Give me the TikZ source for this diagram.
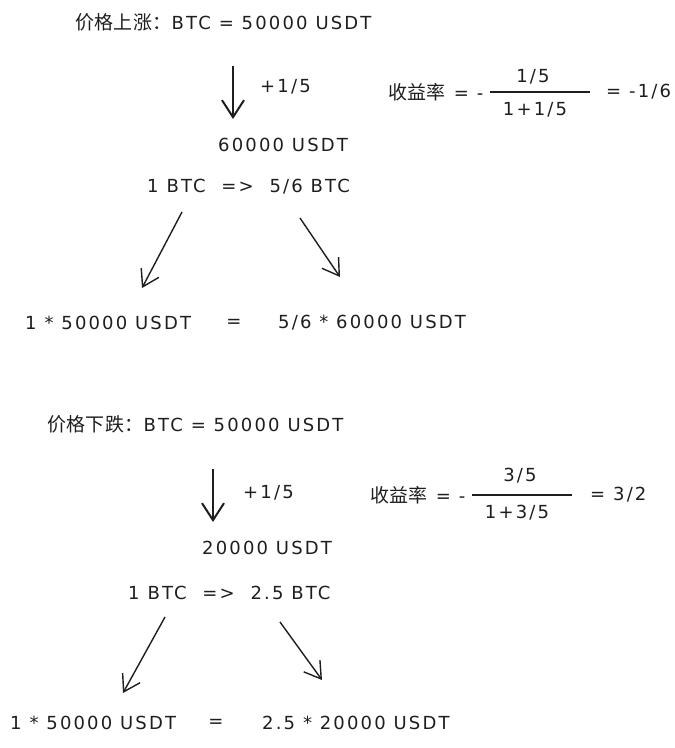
\documentclass[tikz,border=0pt]{standalone}
\usepackage{fontspec}
\setmainfont{DejaVu Sans}[LetterSpace=12]
\newfontfamily\cjk{Noto Sans CJK SC}[LetterSpace=2]
\usetikzlibrary{arrows.meta}
\definecolor{inkDark}{HTML}{1E1E1E}

\begin{document}
\begin{tikzpicture}[x=1pt, y=-1pt,
    txt/.style={anchor=west, inner sep=0pt, text=inkDark,
                font=\fontsize{18}{22}\selectfont},
    txtc/.style={txt, anchor=center},
    drop/.style={draw=inkDark, line width=2pt,
                 -{Straight Barb[length=17pt, width=22pt, line width=2pt]}},
    split/.style={draw=inkDark, line width=1.4pt,
                  -{Straight Barb[length=16pt, width=20pt, line width=1.4pt]}},
    fracbar/.style={draw=inkDark, line width=1.2pt},
  ]
    \useasboundingbox[fill=white] (0,0) rectangle (675,748);

    % ---- price up ----
    \node[txt] (title1) at (75,22) {{\cjk\fontsize{19}{22}\selectfont 价格上涨：}BTC = 50000 USDT};
    \coordinate (dn1a) at (233,66);
    \coordinate (dn1b) at (233,119);
    \draw[drop] (dn1a) -- (dn1b);
    \node[txt] (gain1) at (260,87) {+1/5};
    \node[txt] (price1) at (218,145) {60000 USDT};

    % yield
    \node[txt] (rate1) at (388,92) {{\cjk\fontsize{19}{22}\selectfont 收益率} = -};
    \coordinate (bar1a) at (490,92);
    \coordinate (bar1b) at (590,92);
    \draw[fracbar] (bar1a) -- (bar1b);
    \node[txtc] (num1) at (533,77) {1/5};
    \node[txtc] (den1) at (535,110) {1+1/5};
    \node[txt] (res1) at (606,92) {= -1/6};

    % swap and value
    \node[txt] (swap1) at (147,187) {1 BTC \ => \ 5/6 BTC};
    \coordinate (lt1a) at (182,212);
    \coordinate (lt1b) at (142,288);
    \coordinate (rt1a) at (300,218);
    \coordinate (rt1b) at (340,277);
    \draw[split] (lt1a) -- (lt1b);
    \draw[split] (rt1a) -- (rt1b);
    \node[txt] (base1) at (25,323) {1 * 50000 USDT};
    \node[txtc] (eq1) at (234,323) {=};
    \node[txt] (value1) at (278,323) {5/6 * 60000 USDT};

    % ---- price down ----
    \node[txt] (title2) at (47,424) {{\cjk\fontsize{19}{22}\selectfont 价格下跌：}BTC = 50000 USDT};
    \coordinate (dn2a) at (213,469);
    \coordinate (dn2b) at (213,522);
    \draw[drop] (dn2a) -- (dn2b);
    \node[txt] (gain2) at (243,493) {+1/5};
    \node[txt] (price2) at (202,548) {20000 USDT};

    % yield
    \node[txt] (rate2) at (370,495) {{\cjk\fontsize{19}{22}\selectfont 收益率} = -};
    \coordinate (bar2a) at (472,495);
    \coordinate (bar2b) at (572,495);
    \draw[fracbar] (bar2a) -- (bar2b);
    \node[txtc] (num2) at (520,476) {3/5};
    \node[txtc] (den2) at (517,513) {1+3/5};
    \node[txt] (res2) at (590,495) {= 3/2};

    % swap and value
    \node[txt] (swap2) at (128,593) {1 BTC \ => \ 2.5 BTC};
    \coordinate (lt2a) at (165,617);
    \coordinate (lt2b) at (123,693);
    \coordinate (rt2a) at (280,622);
    \coordinate (rt2b) at (322,680);
    \draw[split] (lt2a) -- (lt2b);
    \draw[split] (rt2a) -- (rt2b);
    \node[txt] (base2) at (10,723) {1 * 50000 USDT};
    \node[txtc] (eq2) at (216,723) {=};
    \node[txt] (value2) at (262,723) {2.5 * 20000 USDT};
\end{tikzpicture}
\end{document}
